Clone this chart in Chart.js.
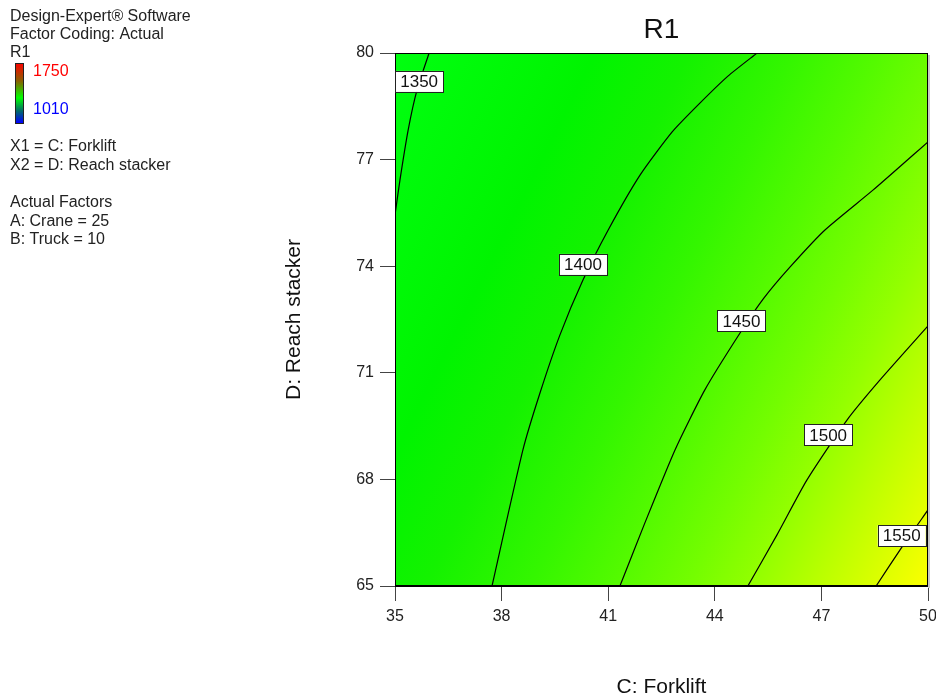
<!DOCTYPE html>
<html>
<head>
<meta charset="utf-8">
<title>R1</title>
<script src="https://cdn.jsdelivr.net/npm/chart.js@4.4.1/dist/chart.umd.min.js"></script>
<style>
    html, body { margin: 0; padding: 0; background: #fff; }
    #wrap { width: 936px; height: 700px; }
</style>
</head>
<body>
<div id="wrap"><canvas id="R1Chart" width="936" height="700"></canvas></div>
<script>
// axis ranges / ticks
const forkliftTicks = [35, 38, 41, 44, 47, 50];
const stackerTicks = [65, 68, 71, 74, 77, 80];

// contour levels and the points (C: Forklift, D: Reach stacker)
const levels = [1350, 1400, 1450, 1500, 1550];
const line1350 = [[35, 75.44], [35.14, 76.43], [35.37, 77.83], [35.62, 78.96], [35.96, 80]];
const line1400 = [[37.73, 65], [38.6, 68.83], [39.08, 70.43], [39.64, 72.06], [40.29, 73.61],
    [41.0, 75.02], [41.9, 76.57], [42.8, 77.78], [43.58, 78.59], [44.37, 79.35], [45.19, 80]];
const line1450 = [[41.33, 65], [42.01, 66.72], [42.88, 68.83], [43.72, 70.52], [44.71, 72.12], [45.38, 73.1],
    [46.12, 73.98], [47.1, 75.02], [48.45, 76.14], [50, 77.5]];
const line1500 = [[44.93, 65], [45.75, 66.44], [46.59, 67.98], [47.72, 69.67], [48.65, 70.8], [50, 72.32]];
const line1550 = [[48.54, 65], [49.27, 66.1], [50, 67.14]];
const contourLines = [line1350, line1400, line1450, line1500, line1550];

// where the level labels sit
const labelSpots = [[35.68, 79.2], [40.29, 74.05], [44.75, 72.46], [47.19, 69.25], [49.26, 66.42]];

// side notes
const responseMax = 1750;
const responseMin = 1010;
const noteLines = ['X1 = C: Forklift', 'X2 = D: Reach stacker'];
const factorLines = ['Actual Factors', 'A: Crane = 25', 'B: Truck = 10'];

const FONT = '"Liberation Sans", Arial, sans-serif';

const surfacePlugin = {
    id: 'surface',
    beforeDatasetsDraw(chart) {
        const {ctx, chartArea: a} = chart;
        const w = a.right - a.left;
        const h = a.bottom - a.top;
        // value rises toward the lower right
        const ux = 0.8954, uy = 0.4452;
        const len = w * ux + h * uy;
        const g = ctx.createLinearGradient(a.left, a.top, a.left + len * ux, a.top + len * uy);
        g.addColorStop(0, '#00ff10');
        g.addColorStop(0.25, '#00f400');
        g.addColorStop(0.37, '#14f200');
        g.addColorStop(0.5, '#34f600');
        g.addColorStop(0.607, '#54fa00');
        g.addColorStop(0.7, '#74fd00');
        g.addColorStop(0.781, '#94ff00');
        g.addColorStop(0.86, '#baff00');
        g.addColorStop(0.938, '#deff00');
        g.addColorStop(1, '#fcff00');
        ctx.save();
        ctx.fillStyle = g;
        ctx.fillRect(a.left, a.top, w, h);
        ctx.restore();
    },
    afterDatasetsDraw(chart) {
        const {ctx, chartArea: a, scales: {x, y}} = chart;
        ctx.save();
        ctx.strokeStyle = '#000';
        ctx.lineWidth = 1;
        ctx.strokeRect(a.left + 0.5, a.top + 0.5, a.right - a.left - 1, a.bottom - a.top - 1);
        ctx.fillStyle = '#c8c8c8';
        ctx.fillRect(a.right, a.top + 2, 2, a.bottom - a.top);

        ctx.font = '17px ' + FONT;
        ctx.textAlign = 'center';
        ctx.textBaseline = 'middle';
        levels.forEach((lv, i) => {
            const px = x.getPixelForValue(labelSpots[i][0]);
            const py = y.getPixelForValue(labelSpots[i][1]);
            const bw = 48, bh = 21;
            ctx.fillStyle = '#fff';
            ctx.fillRect(px - bw / 2, py - bh / 2, bw, bh);
            ctx.strokeStyle = '#222';
            ctx.strokeRect(Math.round(px - bw / 2) + 0.5, Math.round(py - bh / 2) + 0.5, bw, bh);
            ctx.fillStyle = '#111';
            ctx.fillText(String(lv), px, py + 1);
        });
        ctx.restore();
    },
    afterDraw(chart) {
        const {ctx, chartArea: a} = chart;
        ctx.save();
        ctx.fillStyle = '#111';
        ctx.textBaseline = 'middle';
        ctx.textAlign = 'center';
        ctx.font = '28px ' + FONT;
        ctx.fillText('R1', (a.left + a.right) / 2, 30);

        ctx.textAlign = 'left';
        ctx.font = '16px ' + FONT;
        ctx.fillStyle = '#222';
        ctx.fillText('Design-Expert\u00AE Software', 10, 17);
        ctx.fillText('Factor Coding: Actual', 10, 35);
        ctx.fillText('R1', 10, 53);

        const bar = ctx.createLinearGradient(0, 63, 0, 123);
        bar.addColorStop(0, '#ff0000');
        bar.addColorStop(0.3, '#8a6000');
        bar.addColorStop(0.58, '#00ff00');
        bar.addColorStop(0.8, '#006a6a');
        bar.addColorStop(1, '#0000ff');
        ctx.fillStyle = bar;
        ctx.fillRect(15, 63, 8, 60);
        ctx.strokeStyle = '#222';
        ctx.strokeRect(15.5, 63.5, 8, 60);

        ctx.fillStyle = '#ff0000';
        ctx.fillText(String(responseMax), 33, 72);
        ctx.fillStyle = '#0000ff';
        ctx.fillText(String(responseMin), 33, 110);

        ctx.fillStyle = '#222';
        noteLines.forEach((t, i) => ctx.fillText(t, 10, 147 + i * 19));
        factorLines.forEach((t, i) => ctx.fillText(t, 10, 203 + i * 18.5));
        ctx.restore();
    }
};

function buildDatasets() {
    return contourLines.map((pts, i) => ({
        label: String(levels[i]),
        data: pts.map(p => ({x: p[0], y: p[1]})),
        showLine: true,
        borderColor: '#000',
        borderWidth: 1.2,
        pointRadius: 0,
        tension: 0.2,
        fill: false
    }));
}

const ctx = document.getElementById('R1Chart').getContext('2d');
const chart = new Chart(ctx, {
    type: 'scatter',
    data: { datasets: buildDatasets() },
    options: {
        responsive: false,
        animation: false,
        layout: { padding: { left: 278, top: 53, right: 8, bottom: 0 } },
        plugins: {
            legend: { display: false },
            tooltip: { enabled: false }
        },
        scales: {
            x: {
                type: 'linear',
                min: 35,
                max: 50,
                afterBuildTicks: s => { s.ticks = forkliftTicks.map(v => ({value: v})); },
                afterFit: s => { s.height = 114; s.paddingLeft = 0; s.paddingRight = 0; },
                ticks: { color: '#222', padding: 6, font: { size: 16, family: FONT }, maxRotation: 0, autoSkip: false },
                grid: { drawOnChartArea: false, tickLength: 15, color: '#444' },
                border: { color: '#000' },
                title: { display: true, text: 'C: Forklift', color: '#111', font: { size: 21, family: FONT }, padding: { top: 0, bottom: 0 } }
            },
            y: {
                type: 'linear',
                min: 65,
                max: 80,
                afterBuildTicks: s => { s.ticks = stackerTicks.map(v => ({value: v})); },
                afterFit: s => { s.width = 117; s.paddingTop = 0; s.paddingBottom = 0; },
                ticks: { color: '#222', padding: 6, font: { size: 16, family: FONT }, autoSkip: false },
                grid: { drawOnChartArea: false, tickLength: 15, color: '#444' },
                border: { color: '#000' },
                title: { display: true, text: 'D: Reach stacker', color: '#111', font: { size: 21, family: FONT }, padding: { top: 4, bottom: 0 } }
            }
        }
    },
    plugins: [surfacePlugin]
});
</script>
</body>
</html>
